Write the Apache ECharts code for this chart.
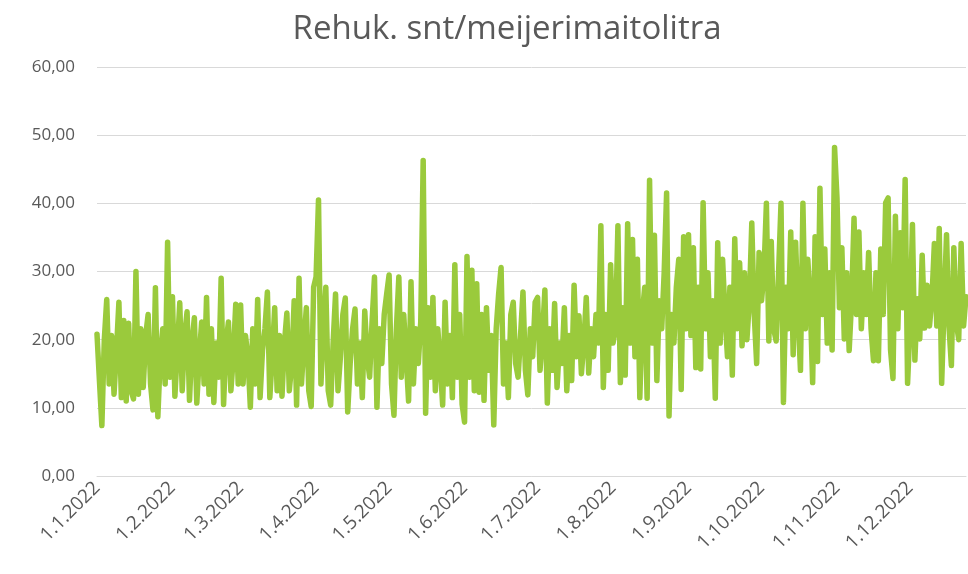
<!DOCTYPE html>
<html>
<head>
<meta charset="utf-8">
<script src="https://cdn.jsdelivr.net/npm/echarts@6/dist/echarts.min.js"></script>
<style>
html,body{margin:0;padding:0;background:#fff;}
#chart{width:968px;height:574px;}
</style>
</head>
<body>
<div id="chart"></div>
<script>
// rehukustannus snt / meijerimaitolitra, päivittäin 1.1.–24.12.2022
var jan = [20.8,14,7.4,20,25.9,13.5,20.6,12,18.5,25.5,11.5,22.8,11,22.4,12.5,11.3,30,12,21.6,13,20.6,23.7,13.5,9.7,27.6,8.7,17.5,21.6,13.5,34.3,14.5];
var feb = [26.3,11.7,18.5,25.4,12.5,20.6,24.1,11.1,19.5,23.2,10.7,17.5,22.6,13.5,26.2,12,21.6,10.8,19.5,14.5,29,10.5,19.5,22.6,12.5,17.5,25.2,13.5];
var mar = [25.1,13.5,20.6,17.5,10.1,21.6,13.5,25.9,11.5,18.5,21.6,27,11.5,17.5,24.7,12.5,20.6,11.7,19.5,23.9,12.5,16.5,25.7,10.4,29,13.5,19.5,24.7,12.5,10.2,27.7];
var apr = [29.2,40.5,13.5,21.6,27.7,12.5,10.4,19.5,26.7,12.5,17.5,23.7,26.1,9.4,16.5,21.6,24.5,13.5,19.5,11.5,24.2,17.5,14.5,22.6,29.2,10.1,21.6,16.5,23.7,26.7];
var may = [29.5,13.5,8.9,21.6,29.2,14.5,23.7,17.5,11,28.5,13.5,21.6,16.5,22.6,46.3,9.2,24.7,14.5,26.2,12.5,21.6,16.5,10.4,25.5,13.5,20.6,11.5,31,14.5,23.7,10.5];
var jun = [7.9,32.2,14.5,30.2,12.5,28.2,12.3,23.7,11.1,24.7,15.5,20.6,7.5,21.6,26.7,30.6,13.5,19.5,11.5,23.7,25.5,16.5,14.5,20.6,27,15.5,11.9,21.6,17.5,25.5];
var jul = [26.2,15.5,20.6,27.3,10.7,21.6,15.5,25.3,13,19.5,16.5,24.7,12.5,20.6,14,28,17.5,23.5,15,19.5,26.2,15.1,21.6,17.5,23.7,19.5,36.7,13,23.7,15.5,31];
var aug = [19.5,21.6,36.7,13.7,24.7,14.8,37,19.5,34.7,17.5,31.8,11.5,23.7,27.7,11.4,43.4,19.5,35.3,14,25.7,21.6,29.8,41.5,8.8,23.7,19.5,27.7,31.8,12.7,35.1,21.6];
var sep = [35.4,20.6,33.5,15.9,27.7,15.7,40.1,21.6,29.8,17.5,25.7,11.4,34.2,19.5,31.8,23.7,17.5,27.7,14.8,34.8,21.6,31.3,19.1,29.8,20,25.7,37.1,23.7,16.5,32.8];
var oct = [25.7,29.8,40,19.8,34.4,21.6,19.8,29.8,40,10.8,27.7,21.6,35.8,17.8,34.3,23.7,15.5,40,21.6,31.8,25.7,13.7,35.1,16.8,42.2,23.7,33.3,19.5,29.8,18.5,48.2];
var nov = [40.8,24.7,33.5,20.1,29.8,18.4,25.7,37.8,23.7,35.8,21.6,29.8,23.7,32.8,21.6,16.9,29.8,16.9,33.3,23.7,40.1,40.8,18.5,14.3,38.1,21.6,35.7,24.7,43.5,13.6];
var dec = [22,36.9,17,26,20.1,32.4,21.7,28,22,26,34.1,22,36.3,13.6,25,35.4,22,16.2,33.5,22.6,20,34.1,22,26.3];

var months = [jan,feb,mar,apr,may,jun,jul,aug,sep,oct,nov,dec];
var yTicks = [0,10,20,30,40,50,60];

var dates = [];
var values = [];
for (var m = 0; m < months.length; m++) {
	for (var d = 0; d < months[m].length; d++) {
		dates.push((d + 1) + '.' + (m + 1) + '.2022');
		values.push(months[m][d]);
	}
}

var chart = echarts.init(document.getElementById('chart'));
var option = {
	animation: false,
	title: {
		text: 'Rehuk. snt/meijerimaitolitra',
		left: 502,
		textAlign: 'center',
		top: 8,
		textStyle: {
			fontFamily: 'Open Sans',
			fontSize: 33,
			fontWeight: 'normal',
			color: '#595959'
		}
	},
	grid: {
		left: 97,
		right: 2,
		top: 67,
		bottom: 98
	},
	xAxis: {
		type: 'category',
		data: dates,
		boundaryGap: false,
		axisLine: { lineStyle: { color: '#d9d9d9', width: 1 } },
		axisTick: { show: false },
		axisLabel: {
			interval: function (i, v) { return v.indexOf('1.') === 0; },
			rotate: 45,
			margin: 9,
			fontFamily: 'Open Sans',
			fontSize: 19,
			color: '#595959'
		}
	},
	yAxis: {
		type: 'value',
		min: yTicks[0],
		max: yTicks[yTicks.length - 1],
		interval: 10,
		axisLine: { show: false },
		axisTick: { show: false },
		splitLine: { lineStyle: { color: '#d9d9d9', width: 1 } },
		axisLabel: {
			margin: 22,
			fontFamily: 'Open Sans',
			fontSize: 17,
			color: '#595959',
			formatter: function (v) { return v.toFixed(2).replace('.', ','); }
		}
	},
	series: [{
		type: 'line',
		data: values,
		symbol: 'none',
		lineStyle: { color: '#9ACA3C', width: 5.5, cap: 'round', join: 'round' },
		itemStyle: { color: '#9ACA3C' }
	}]
};
chart.setOption(option);
</script>
</body>
</html>
